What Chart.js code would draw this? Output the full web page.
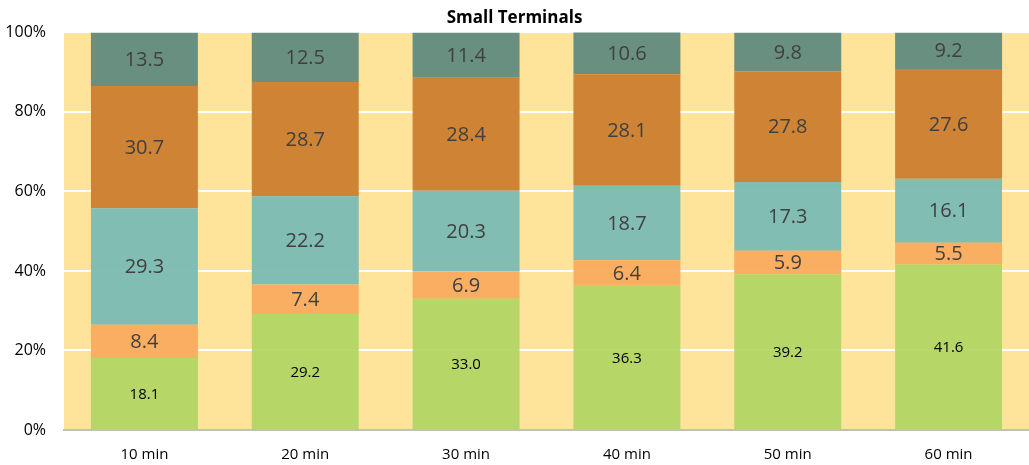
<!DOCTYPE html>
<html>
<head>
<meta charset="utf-8">
<script src="https://cdn.jsdelivr.net/npm/chart.js@4"></script>
<style>
  html, body { margin: 0; padding: 0; background: #fff; }
  #wrap { width: 1029px; height: 465px; }
</style>
</head>
<body>
<div id="wrap"><canvas id="terminalsChart"></canvas></div>
<script>
// Small Terminals - 100% stacked bars
const categories = ['10 min', '20 min', '30 min', '40 min', '50 min', '60 min'];
const seriesGreen = [18.1, 29.2, 33.0, 36.3, 39.2, 41.6];
const seriesLightOrange = [8.4, 7.4, 6.9, 6.4, 5.9, 5.5];
const seriesTeal = [29.3, 22.2, 20.3, 18.7, 17.3, 16.1];
const seriesDarkOrange = [30.7, 28.7, 28.4, 28.1, 27.8, 27.6];
const seriesGrey = [13.5, 12.5, 11.4, 10.6, 9.8, 9.2];
const yTicks = [0, 20, 40, 60, 80, 100];

const FONT = 'Open Sans';

// yellow plot background
const plotBg = {
  id: 'plotBg',
  beforeDraw(chart) {
    const { ctx, chartArea: a } = chart;
    ctx.save();
    ctx.fillStyle = '#FEE39B';
    ctx.fillRect(a.left, a.top, a.right - a.left, a.bottom - a.top);
    ctx.restore();
  }
};

// value labels in the middle of each segment
const segLabels = {
  id: 'segLabels',
  afterDatasetsDraw(chart) {
    const { ctx } = chart;
    ctx.save();
    ctx.textAlign = 'center';
    ctx.textBaseline = 'middle';
    chart.data.datasets.forEach((ds, i) => {
      const meta = chart.getDatasetMeta(i);
      meta.data.forEach((bar, j) => {
        const y = (bar.y + bar.base) / 2;
        if (i === 0) {
          ctx.font = `15px "${FONT}"`;
          ctx.fillStyle = '#000';
        } else {
          ctx.font = `20px "${FONT}"`;
          ctx.fillStyle = '#404040';
        }
        ctx.fillText(ds.data[j].toFixed(1), bar.x, y + 1);
      });
    });
    ctx.restore();
  }
};

const ctx = document.getElementById('terminalsChart').getContext('2d');
new Chart(ctx, {
  type: 'bar',
  data: {
    labels: categories,
    datasets: [
      { label: 'Green', data: seriesGreen, backgroundColor: 'rgba(176,213,100,0.93)' },
      { label: 'Light orange', data: seriesLightOrange, backgroundColor: 'rgba(249,171,94,0.95)' },
      { label: 'Teal', data: seriesTeal, backgroundColor: 'rgba(122,187,180,0.95)' },
      { label: 'Dark orange', data: seriesDarkOrange, backgroundColor: 'rgba(204,128,50,0.97)' },
      { label: 'Grey', data: seriesGrey, backgroundColor: 'rgba(100,140,127,0.97)' },
    ],
  },
  options: {
    responsive: true,
    maintainAspectRatio: false,
    animation: false,
    datasets: { bar: { barPercentage: 0.665, categoryPercentage: 1 } },
    layout: { padding: { left: 0, right: 0, top: 0, bottom: 0 } },
    scales: {
      x: {
        stacked: true,
        afterFit(scale) { scale.height = 35; },
        grid: { drawOnChartArea: false, drawTicks: false },
        border: { display: true, color: '#BFBFBF', width: 2 },
        ticks: { color: '#000', padding: 16, font: { family: FONT, size: 15 } }
      },
      y: {
        stacked: true,
        min: 0,
        max: 100,
        afterFit(scale) { scale.width = 64; },
        afterBuildTicks(scale) { scale.ticks = yTicks.map(v => ({ value: v })); },
        grid: { color: '#FFFFFF', lineWidth: 2, drawTicks: false },
        border: { display: false },
        ticks: {
          color: '#000',
          padding: 18,
          font: { family: FONT, size: 16 },
          callback: v => v + '%'
        }
      }
    },
    plugins: {
      legend: { display: false },
      tooltip: { enabled: false },
      title: {
        display: true,
        text: 'Small Terminals',
        color: '#000',
        font: { family: FONT, size: 17, weight: 'bold' },
        padding: { top: 8, bottom: 4 }
      }
    }
  },
  plugins: [plotBg, segLabels]
});
</script>
</body>
</html>
